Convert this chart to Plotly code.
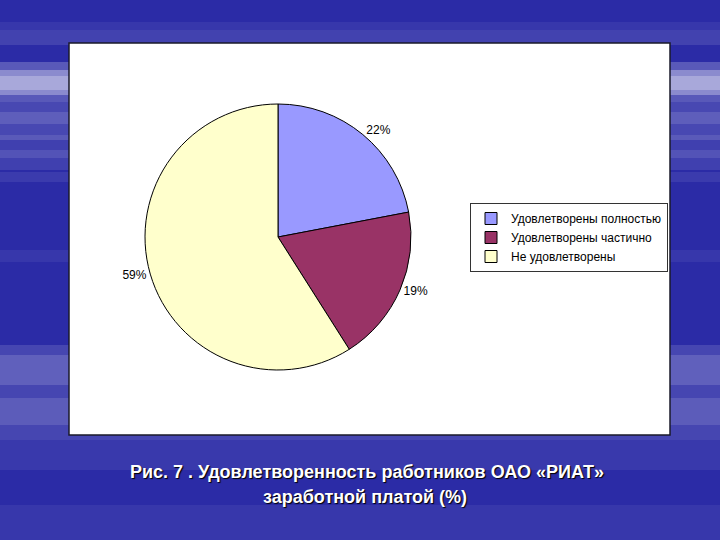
import plotly.graph_objects as go

categories = ["Удовлетворены полностью", "Удовлетворены частично", "Не удовлетворены"]
values = [22, 19, 59]
colors = ["#9999FF", "#993366", "#FFFFCC"]
caption_lines = ["Рис. 7 . Удовлетворенность работников ОАО «РИАТ»", "заработной платой (%)"]

W, H = 720, 540

def px(x):
    return x / W

def py(y):
    return 1 - y / H

fig = go.Figure()
fig.add_trace(go.Pie(
    labels=categories,
    values=values,
    marker=dict(colors=colors, line=dict(color="#000000", width=1)),
    sort=False,
    direction="clockwise",
    rotation=0,
    texttemplate="%{value}%",
    textposition="outside",
    textfont=dict(family="Arial, Liberation Sans, sans-serif", size=12, color="#000000"),
    domain=dict(x=[px(145), px(411)], y=[py(370), py(104)]),
    showlegend=True,
))

shapes = []
# background streaks (light bands)
bands = [
    (62, 102, 0.22), (70, 95, 0.30), (76, 90, 0.25), (102, 140, 0.14), (112, 124, 0.12),
    (135, 170, 0.10), (150, 158, 0.10), (172, 182, 0.08), (250, 262, 0.06),
    (345, 440, 0.13), (355, 385, 0.14), (398, 425, 0.12), (440, 470, 0.07),
    (505, 540, 0.06), (22, 45, 0.06), (30, 45, 0.06),
]
for y0, y1, op in bands:
    shapes.append(dict(type="rect", xref="paper", yref="paper", x0=0, x1=1,
                       y0=py(y1), y1=py(y0), fillcolor="#FFFFFF", opacity=op,
                       line=dict(width=0), layer="below"))
# white chart area
shapes.append(dict(type="rect", xref="paper", yref="paper",
                   x0=px(69), x1=px(670), y0=py(435), y1=py(43),
                   fillcolor="#FFFFFF", line=dict(color="#1a1a2a", width=1.5), layer="below"))

cap_font = dict(family="Arial, Liberation Sans, sans-serif", size=18, color="#FFFFFF",
                shadow="1px 1px 1px #000000")
annotations = [
    dict(text="<b>" + caption_lines[0] + "</b>", x=px(367), y=py(472), xref="paper", yref="paper",
         showarrow=False, xanchor="center", yanchor="middle", font=cap_font),
    dict(text="<b>" + caption_lines[1] + "</b>", x=px(365), y=py(497), xref="paper", yref="paper",
         showarrow=False, xanchor="center", yanchor="middle", font=cap_font),
]

fig.update_layout(
    width=W, height=H,
    margin=dict(l=0, r=0, t=0, b=0),
    paper_bgcolor="#2B2BA6",
    plot_bgcolor="rgba(0,0,0,0)",
    shapes=shapes,
    annotations=annotations,
    legend=dict(
        x=px(470), y=py(203), xanchor="left", yanchor="top",
        bgcolor="#FFFFFF", bordercolor="#333333", borderwidth=1,
        font=dict(family="Arial, Liberation Sans, sans-serif", size=12, color="#000000"),
        itemwidth=30, tracegroupgap=2,
    ),
)

fig.write_html("out.html", config={"displayModeBar": False},
               post_script="document.body.style.margin='0';document.body.style.padding='0';")
